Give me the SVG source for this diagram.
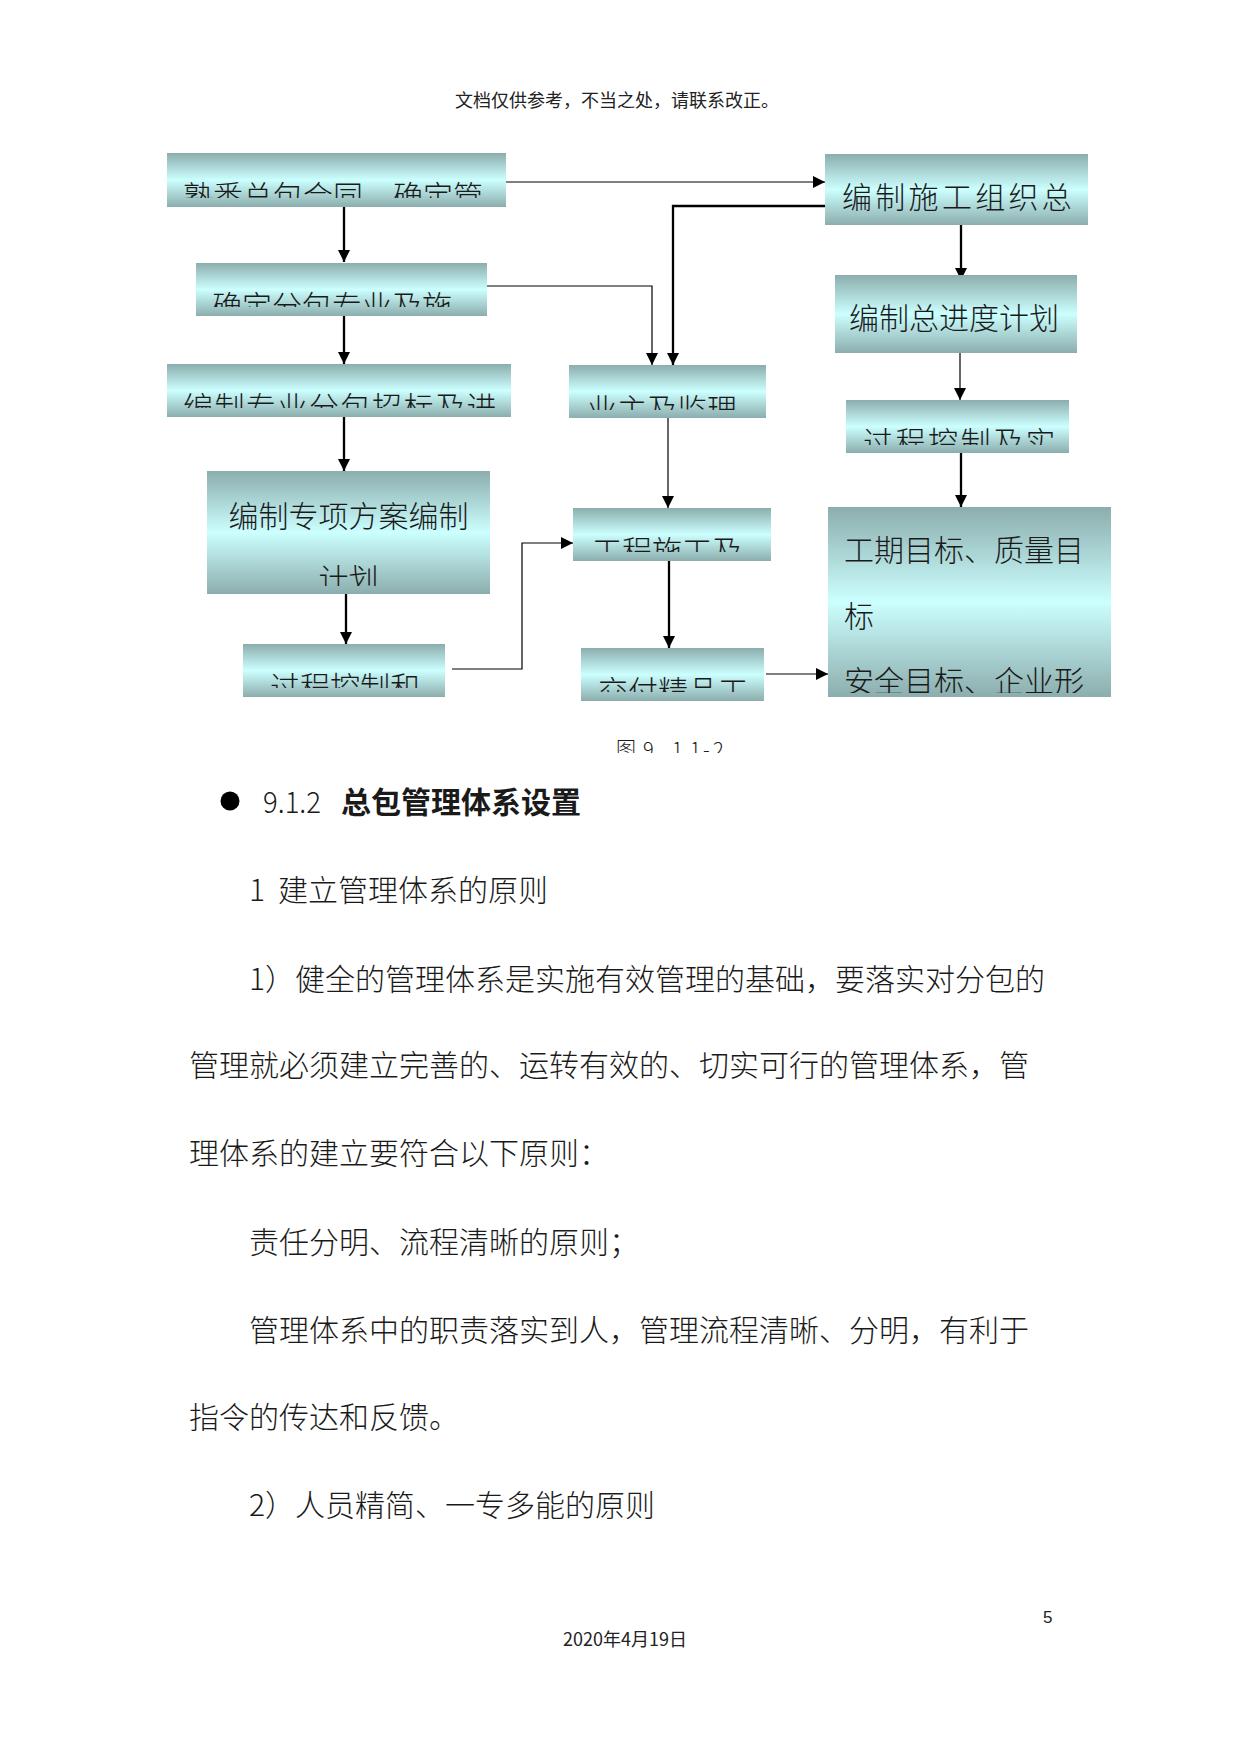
<svg xmlns="http://www.w3.org/2000/svg" width="1241" height="1754" viewBox="0 0 1241 1754">
<style>
.bt{font-family:"Noto Sans CJK SC","Noto Sans",sans-serif;font-size:30px;font-weight:300;fill:#1a1a1a}
.body{font-family:"Noto Sans CJK SC","Noto Sans",sans-serif;font-size:30px;font-weight:300;fill:#1a1a1a}
.small{font-family:"Noto Sans CJK SC","Liberation Sans",sans-serif;font-size:18px;fill:#222}
.thick{fill:none;stroke:#000;stroke-width:2.3;marker-end:url(#ah)}
.thin{fill:none;stroke:#000;stroke-width:1.2;marker-end:url(#ah)}
.box{fill:url(#g)}
</style>
<defs>
<linearGradient id="g" x1="0" y1="0" x2="0" y2="1">
<stop offset="0" stop-color="#8cadad"/>
<stop offset="0.5" stop-color="#ccffff"/>
<stop offset="1" stop-color="#8cadad"/>
</linearGradient>
<marker id="ah" markerUnits="userSpaceOnUse" markerWidth="12" markerHeight="12" refX="12" refY="6" orient="auto">
<path d="M0,0 L12,6 L0,12 z" fill="#000"/>
</marker>
<clipPath id="k1"><rect x="167" y="153" width="339" height="45"/></clipPath>
<clipPath id="k2"><rect x="196" y="263" width="291" height="44"/></clipPath>
<clipPath id="k3"><rect x="167" y="364" width="344" height="44"/></clipPath>
<clipPath id="k4"><rect x="207" y="471" width="283" height="115"/></clipPath>
<clipPath id="k5"><rect x="243" y="644" width="202" height="44"/></clipPath>
<clipPath id="k6"><rect x="569" y="365" width="197" height="45"/></clipPath>
<clipPath id="k7"><rect x="573" y="508" width="198" height="44"/></clipPath>
<clipPath id="k8"><rect x="581" y="648" width="183" height="44"/></clipPath>
<clipPath id="k11"><rect x="846" y="400" width="223" height="45"/></clipPath>
<clipPath id="k12"><rect x="828" y="507" width="283" height="186"/></clipPath>
<clipPath id="kc"><rect x="600" y="720" width="160" height="33"/></clipPath>
</defs>
<rect width="1241" height="1754" fill="#fff"/>

<text class="small" x="617" y="107" text-anchor="middle">文档仅供参考，不当之处，请联系改正。</text>

<g id="connectors">
<path class="thick" d="M344,207 V262"/>
<path class="thick" d="M344,316 V364"/>
<path class="thick" d="M344,417 V471"/>
<path class="thick" d="M346,594 V644"/>
<path class="thin" d="M506,182 H825"/>
<path class="thick" d="M825,206 H673 V365"/>
<path class="thin" d="M487,286 H652 V365"/>
<path class="thin" d="M668,418 V508"/>
<path class="thin" d="M452,669 H522 V543 H573"/>
<path class="thick" d="M669,561 V648"/>
<path class="thin" d="M766,674 H828"/>
<path class="thick" d="M961,225 V280"/>
<path class="thin" d="M960,353 V400"/>
<path class="thick" d="M961,453 V507"/>
</g>

<g id="n1"><rect class="box" x="167" y="153" width="339" height="54"/>
<text class="bt" x="183" y="207" clip-path="url(#k1)">熟悉总包合同，确定管</text></g>
<g id="n2"><rect class="box" x="196" y="263" width="291" height="53"/>
<text class="bt" x="212" y="317" clip-path="url(#k2)">确定分包专业及施</text></g>
<g id="n3"><rect class="box" x="167" y="364" width="344" height="53"/>
<text class="bt" x="183" y="418" style="letter-spacing:1.5px" clip-path="url(#k3)">编制专业分包招标及进</text></g>
<g id="n4"><rect class="box" x="207" y="471" width="283" height="123"/>
<g clip-path="url(#k4)"><text class="bt" x="348.5" y="527" text-anchor="middle">编制专项方案编制</text>
<text class="bt" x="348.5" y="590" text-anchor="middle">计划</text></g></g>
<g id="n5"><rect class="box" x="243" y="644" width="202" height="53"/>
<text class="bt" x="270" y="698" clip-path="url(#k5)">过程控制和</text></g>
<g id="n6"><rect class="box" x="569" y="365" width="197" height="53"/>
<text class="bt" x="587" y="420" clip-path="url(#k6)">业主及监理</text></g>
<g id="n7"><rect class="box" x="573" y="508" width="198" height="53"/>
<text class="bt" x="592" y="562" clip-path="url(#k7)">工程施工及</text></g>
<g id="n8"><rect class="box" x="581" y="648" width="183" height="53"/>
<text class="bt" x="598" y="702" clip-path="url(#k8)">交付精品工</text></g>
<g id="n9"><rect class="box" x="825" y="154" width="263" height="71"/>
<text class="bt" x="842" y="208" style="letter-spacing:3.3px">编制施工组织总</text></g>
<g id="n10"><rect class="box" x="835" y="275" width="242" height="78"/>
<text class="bt" x="849" y="329">编制总进度计划</text></g>
<g id="n11"><rect class="box" x="846" y="400" width="223" height="53"/>
<text class="bt" x="863" y="453" style="letter-spacing:2.5px" clip-path="url(#k11)">过程控制及实</text></g>
<g id="n12"><rect class="box" x="828" y="507" width="283" height="190"/>
<g clip-path="url(#k12)"><text class="bt" x="844" y="561">工期目标、质量目</text>
<text class="bt" x="844" y="627">标</text>
<text class="bt" x="844" y="692">安全目标、企业形</text></g></g>

<text clip-path="url(#kc)" font-family="Noto Sans CJK SC, Liberation Sans, sans-serif" font-size="20" font-weight="300" fill="#1a1a1a" y="757"><tspan x="616">图</tspan><tspan x="643">9</tspan><tspan x="661">.</tspan><tspan x="672">1</tspan><tspan x="685">.</tspan><tspan x="690">1</tspan><tspan x="703">-</tspan><tspan x="713">2</tspan></text>

<circle cx="230" cy="801" r="9.5" fill="#000"/>
<text class="body" x="263" y="813" font-size="29" textLength="58" lengthAdjust="spacingAndGlyphs">9.1.2</text>
<text class="body" x="341" y="813" font-weight="700" style="font-weight:700">总包管理体系设置</text>

<text class="body" y="901"><tspan x="249">1</tspan><tspan x="278">建立管理体系的原则</tspan></text>
<text class="body" x="249" y="990">1）健全的管理体系是实施有效管理的基础，要落实对分包的</text>
<text class="body" x="189" y="1076">管理就必须建立完善的、运转有效的、切实可行的管理体系，管</text>
<text class="body" x="189" y="1164">理体系的建立要符合以下原则：</text>
<text class="body" x="249" y="1253">责任分明、流程清晰的原则；</text>
<text class="body" x="249" y="1341">管理体系中的职责落实到人，管理流程清晰、分明，有利于</text>
<text class="body" x="189" y="1428">指令的传达和反馈。</text>
<text class="body" x="249" y="1516">2）人员精简、一专多能的原则</text>

<text x="1043" y="1623" font-family="Liberation Sans, sans-serif" font-size="17" fill="#222">5</text>
<text class="small" x="563" y="1646">2020年4月19日</text>
</svg>
